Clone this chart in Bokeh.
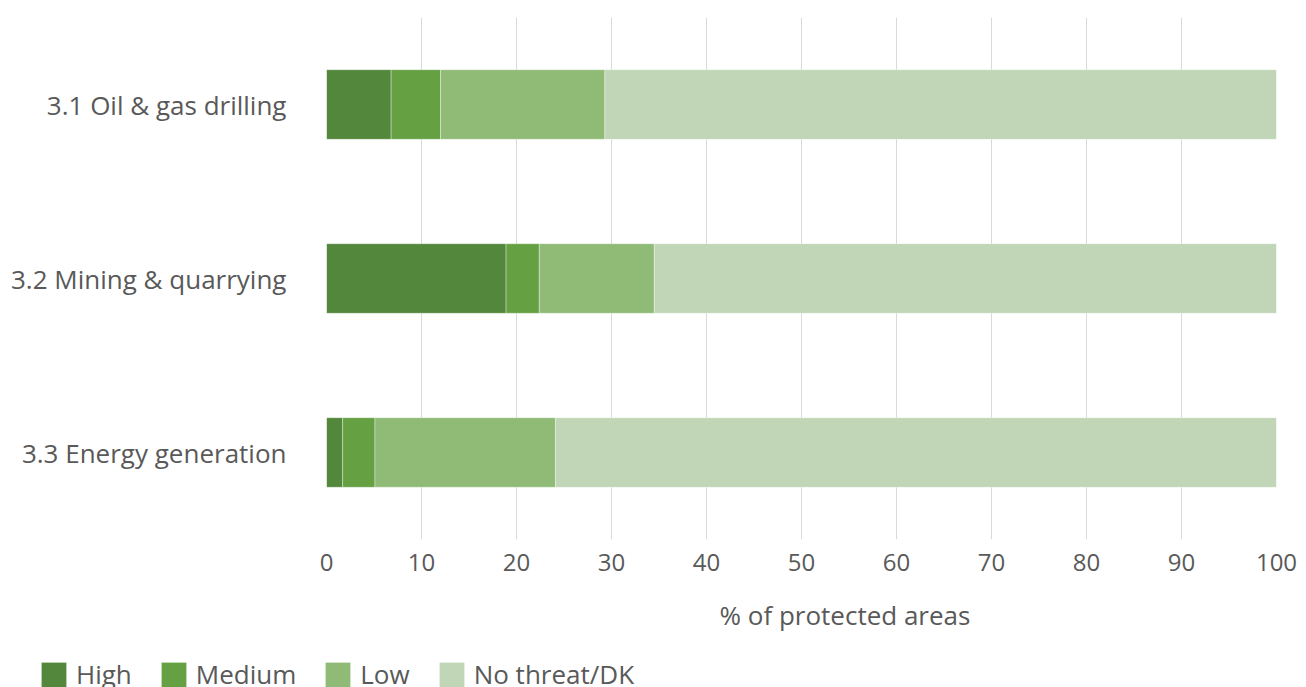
from bokeh.plotting import figure
from bokeh.layouts import column, row
from bokeh.models import FactorRange, FixedTicker, Legend, LegendItem, Title, ColumnDataSource
from bokeh.embed import file_html
from bokeh.resources import INLINE

categories = ["3.1 Oil & gas drilling", "3.2 Mining & quarrying", "3.3 Energy generation"]
high = [6.8, 18.9, 1.7]
medium = [5.2, 3.5, 3.4]
low = [17.3, 12.1, 19.0]
no_threat = [70.7, 65.5, 75.9]
series_names = ["High", "Medium", "Low", "No threat/DK"]
colors = ["#53873B", "#65A143", "#8FBB77", "#C0D6B6"]
x_ticks = list(range(0, 101, 10))

FONT = "Open Sans"
TXT = "#595959"

src = ColumnDataSource(dict(cat=categories, high=high, medium=medium, low=low, no_threat=no_threat))

p = figure(width=1300, height=656, output_backend="svg", toolbar_location=None,
           y_range=FactorRange(factors=categories[::-1]), x_range=(0, 100),
           min_border_left=326, min_border_right=24, min_border_top=17, min_border_bottom=117)
p.outline_line_color = None

renderers = p.hbar_stack(["high", "medium", "low", "no_threat"], y="cat", height=0.4,
                         color=colors, source=src, line_color="white", line_alpha=0.35, line_width=1)

p.xaxis.ticker = FixedTicker(ticks=x_ticks)
p.xgrid.ticker = FixedTicker(ticks=x_ticks)
p.xgrid.grid_line_color = "#D9D9D9"
p.ygrid.grid_line_color = None
for ax in (p.xaxis, p.yaxis):
    ax.axis_line_color = None
    ax.major_tick_line_color = None
    ax.minor_tick_line_color = None
    ax.major_label_text_font = FONT
    ax.major_label_text_color = TXT
p.xaxis.major_label_text_font_size = "24px"
p.xaxis.major_label_standoff = 8
p.yaxis.major_label_text_font_size = "26px"
p.yaxis.major_label_standoff = 34

xt = Title(text="% of protected areas", align="left", offset=393, standoff=42,
           text_font=FONT, text_font_size="26px", text_color=TXT, text_font_style="normal")
p.add_layout(xt, "below")

# legend strip below the chart (swatch renderers carry no visible extent)
lg = figure(width=1300, height=31, output_backend="svg", toolbar_location=None,
            x_axis_type=None, y_axis_type=None, x_range=(0, 1), y_range=(0, 1),
            min_border=0)
lg.outline_line_color = None
lg.xgrid.visible = False
lg.ygrid.visible = False
swatches = [lg.hbar(y=[0], left=[0], right=[0], height=0, fill_color=c, line_color=None) for c in colors]
legend = Legend(items=[LegendItem(label=n, renderers=[r]) for n, r in zip(series_names, swatches)],
                orientation="horizontal", location=(38, -5),
                label_text_font=FONT, label_text_font_size="26px", label_text_color=TXT,
                glyph_width=31, glyph_height=31, label_standoff=7, spacing=26,
                border_line_color=None, background_fill_alpha=0, padding=0, margin=0)
lg.add_layout(legend, "center")

layout = column(p, row(lg), spacing=0)
open("out.html", "w").write(file_html(layout, INLINE))
